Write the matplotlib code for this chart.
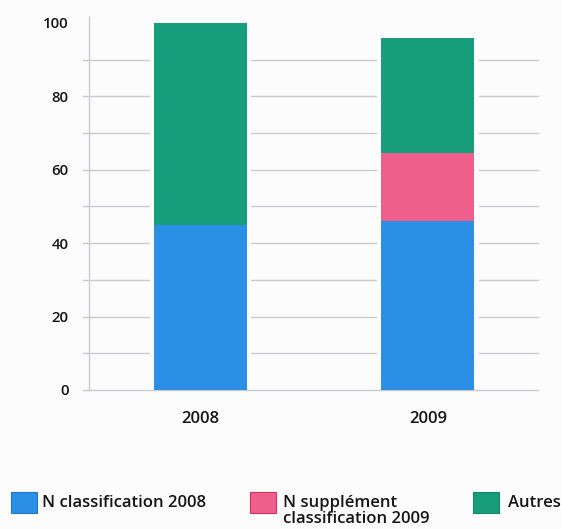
import numpy as np
import matplotlib
matplotlib.use("Agg")
import matplotlib.pyplot as plt
from matplotlib.patches import Rectangle

plt.rcParams['font.family'] = ['Open Sans', 'DejaVu Sans']
plt.rcParams['font.weight'] = 'semibold'

annees = ['2008', '2009']
n_classif_2008 = np.array([45, 46])
n_supp_2009 = np.array([0, 18.5])
autres = np.array([55, 31.5])

series = [n_classif_2008, n_supp_2009, autres]
labels = ['N classification 2008', 'N supplément\nclassification 2009', 'Autres']
couleurs = ['#2a8fe5', '#ef5f8b', '#189d7c']
bords = ['#1f78c8', '#d8305f', '#12876a']

fond = '#fcfcfd'
gris = '#c9cbd3'

fig = plt.figure(figsize=(5.62, 5.29), dpi=100, facecolor=fond)
ax = fig.add_axes([0.1589, 0.2628, 0.7984, 0.7057])
ax.set_facecolor(fond)

x = np.arange(len(annees))
largeur = 0.409

# grille horizontale, legerement au-dela de l'axe a gauche
for yv in range(0, 100, 10):
    ax.axhline(yv, xmin=-6 / 448.7, xmax=1, color=gris, lw=1.0, clip_on=False, zorder=1)

# fond blanc autour des barres (coupe la grille)
total = n_classif_2008 + n_supp_2009 + autres
ax.bar(x, total - 0.5, largeur + 0.036, bottom=0.5, color=fond, zorder=2)

bas = np.zeros(len(annees))
for vals, c in zip(series, couleurs):
    ax.bar(x, vals, largeur, bottom=bas, color=c, zorder=3)
    bas = bas + vals

ax.set_xlim(-0.488, 1.484)
ax.set_ylim(0, 101.7)
ax.set_yticks(range(0, 101, 20))
ax.set_xticks(x)
ax.set_xticklabels(annees, fontsize=12)
ax.tick_params(axis='y', length=0, pad=15, labelsize=10.8, labelcolor='#151515')
ax.tick_params(axis='x', length=0, pad=15, labelcolor='#151515')

for s in ['top', 'right', 'bottom']:
    ax.spines[s].set_visible(False)
ax.spines['left'].set_color(gris)
ax.spines['left'].set_linewidth(1.0)

# legende
W, H = 562.0, 529.0
carre_x = [11, 250, 473]
texte_x = [42, 283, 508]
for cx, tx, lab, c, b in zip(carre_x, texte_x, labels, couleurs, bords):
    fig.patches.append(Rectangle((cx / W, (H - 513) / H), 26 / W, 21 / H,
                                 transform=fig.transFigure, facecolor=c,
                                 edgecolor=b, lw=0.8))
    lignes = lab.split('\n')
    for i, l in enumerate(lignes):
        fig.text(tx / W, (H - 507 - i * 15.7) / H, l, fontsize=12,
                 va='baseline', ha='left', color='#151515')

fig.savefig('out.png', dpi=100, facecolor=fond)
